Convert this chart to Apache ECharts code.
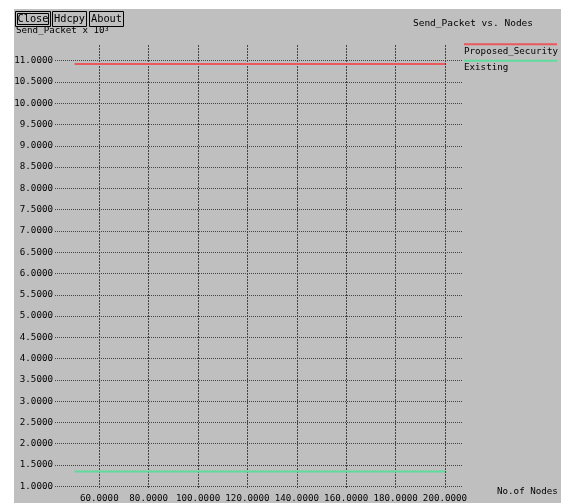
<!DOCTYPE html>
<html><head><meta charset="utf-8">
<script src="https://cdn.jsdelivr.net/npm/echarts@6/dist/echarts.min.js"></script>
<style>
html,body{margin:0;padding:0;background:#fff;}
#wrap{position:relative;width:561px;height:503px;overflow:hidden;}
#bg{position:absolute;left:14px;top:9px;right:0;bottom:0;background:#bfbfbf;}
#c{position:absolute;left:0;top:0;width:561px;height:503px;}
</style>
</head><body>
<div id="wrap"><div id="bg"></div><div id="c"></div></div>
<script>
// ---- data ----
const nodes = [50, 100, 150, 200];
const proposedSecurity = [10.92, 10.92, 10.92, 10.92];
const existing = [1.35, 1.35, 1.35, 1.35];
const seriesNames = ['Proposed_Security', 'Existing'];
const xTickMin = 40, xTickMax = 200, xTickStep = 20;   // labels 60.0000 ... 200.0000
const yTickMin = 1, yTickMax = 11, yTickStep = 0.5;     // labels 1.0000 ... 11.0000
const titleText = 'Send_Packet vs. Nodes';
const yTitle = 'Send_Packet x 10';
const xTitle = 'No.of Nodes';
const buttons = ['Close', 'Hdcpy', 'About'];

// ---- style ----
const FONT = 'DejaVu Sans Mono';
const FS = 9.2;
const RED = '#e8585c', GREEN = '#5ddc9c';
const fmt = v => Number(v).toFixed(4);

const chart = echarts.init(document.getElementById('c'), null, {renderer: 'canvas'});

const btnBoxes = [[15, 35], [52, 34], [89, 34]];
const btnGraphics = [];
buttons.forEach((b, i) => {
  const [x, w] = btnBoxes[i];
  btnGraphics.push({type: 'rect', z: 100, shape: {x: x + 0.5, y: 11.5, width: w, height: 15},
    style: {fill: '#bfbfbf', stroke: '#000', lineWidth: 1}});
  if (i === 0) {
    btnGraphics.push({type: 'rect', z: 101, shape: {x: x + 2.5, y: 13.5, width: w - 4, height: 11},
      style: {fill: 'none', stroke: '#000', lineWidth: 1}});
  }
  btnGraphics.push({type: 'text', z: 102, x: x + w / 2 + 0.5, y: 19,
    style: {text: b, font: '10.3px ' + FONT, fill: '#000', textAlign: 'center', textVerticalAlign: 'middle'}});
});

chart.setOption({
  animation: false,
  backgroundColor: 'transparent',
  textStyle: {fontFamily: FONT},
  grid: [
    {left: 49.92, right: 116, top: 45, bottom: 11},
    {left: 55, right: 99, top: 60.7, bottom: 16.7}
  ],
  xAxis: [
    {type: 'value', gridIndex: 0, min: xTickMin, max: xTickMax, interval: xTickStep,
      axisLine: {show: false}, axisTick: {show: false},
      axisLabel: {formatter: fmt, showMinLabel: false, margin: 5, color: '#000', fontSize: FS, fontFamily: FONT},
      splitLine: {show: true, showMinLine: false, lineStyle: {color: '#444', width: 1, type: [2, 1]}}},
    {type: 'value', gridIndex: 1, min: 42.06, max: 206.89, show: false}
  ],
  yAxis: [
    {type: 'value', gridIndex: 0, min: 0, max: 1, show: false},
    {type: 'value', gridIndex: 1, min: yTickMin, max: yTickMax, interval: yTickStep,
      axisLine: {show: false}, axisTick: {show: false},
      axisLabel: {formatter: fmt, margin: 2, color: '#000', fontSize: FS, fontFamily: FONT},
      splitLine: {show: true, lineStyle: {color: '#444', width: 1, type: [1, 1]}}}
  ],
  series: [
    {name: seriesNames[0], type: 'line', xAxisIndex: 1, yAxisIndex: 1, showSymbol: false, symbol: 'none',
      lineStyle: {color: RED, width: 2}, data: nodes.map((n, i) => [n, proposedSecurity[i]]), z: 5},
    {name: seriesNames[1], type: 'line', xAxisIndex: 1, yAxisIndex: 1, showSymbol: false, symbol: 'none',
      lineStyle: {color: GREEN, width: 2}, data: nodes.map((n, i) => [n, existing[i]]), z: 5}
  ],
  graphic: [
    {type: 'text', z: 50, x: 16, y: 30.5,
      style: {text: '{a|' + yTitle + '}{s|3}', textVerticalAlign: 'middle',
        rich: {a: {font: FS + 'px ' + FONT, fill: '#000'}, s: {font: '7px ' + FONT, fill: '#000', verticalAlign: 'top'}}}},
    ...btnGraphics,
    {type: 'text', z: 50, x: 473, y: 24,
      style: {text: titleText, font: '9.5px ' + FONT, fill: '#000', textAlign: 'center', textVerticalAlign: 'middle'}},
    {type: 'line', z: 50, shape: {x1: 464, y1: 44.3, x2: 557, y2: 44.3}, style: {stroke: RED, lineWidth: 2}},
    {type: 'text', z: 50, x: 464, y: 52,
      style: {text: seriesNames[0], font: FS + 'px ' + FONT, fill: '#000', textVerticalAlign: 'middle'}},
    {type: 'line', z: 50, shape: {x1: 464, y1: 60.7, x2: 557, y2: 60.7}, style: {stroke: GREEN, lineWidth: 2}},
    {type: 'text', z: 50, x: 464, y: 68,
      style: {text: seriesNames[1], font: FS + 'px ' + FONT, fill: '#000', textVerticalAlign: 'middle'}},
    {type: 'text', z: 50, x: 497, y: 492,
      style: {text: xTitle, font: FS + 'px ' + FONT, fill: '#000', textVerticalAlign: 'middle'}}
  ]
});
</script>
</body></html>
